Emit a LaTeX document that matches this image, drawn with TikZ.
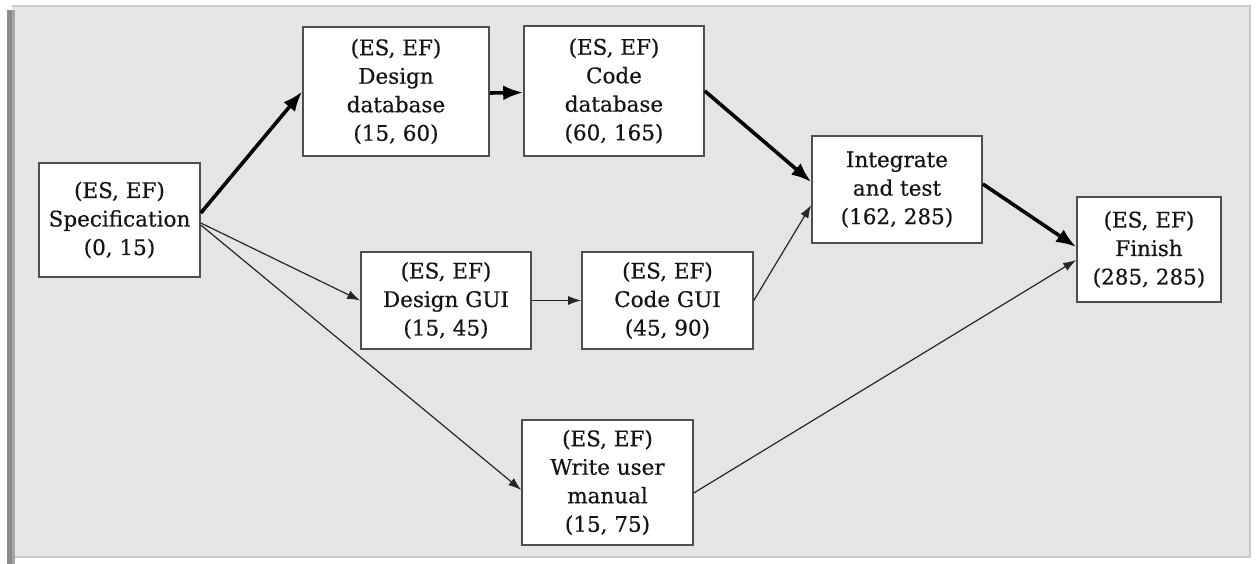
\documentclass[tikz,border=0pt]{standalone}
\usepackage{fontspec}
\setmainfont{DejaVu Serif}
\newfontfamily\boxfont{DejaVu Serif}[FakeBold=0.5]
\usetikzlibrary{arrows.meta}
\definecolor{panel}{HTML}{E4E5E7}
\definecolor{paneledge}{HTML}{C9CACC}
\definecolor{sidebar}{HTML}{8A8A8A}
\definecolor{boxline}{HTML}{4E4E4E}
\definecolor{ink}{HTML}{151515}
\tikzset{
  task/.style={draw=boxline, line width=1.6pt, fill=white, align=center,
    inner sep=0pt, text=ink, font=\boxfont\fontsize{21.5}{28.5}\selectfont},
  crit/.style={line width=3.6pt, black, -{Latex[length=20pt,width=15pt]}},
  flow/.style={line width=1.2pt, black!85, -{Latex[length=13pt,width=9pt]}},
}
\begin{document}
\begin{tikzpicture}[x=1pt,y=-1pt]
\useasboundingbox (0,0) rectangle (1256,564);
% page and grey panel
\fill[white] (0,0) rectangle (1256,564);
\fill[panel] (12,6) rectangle (1250,557);
\draw[paneledge, line width=2.5pt] (12,6) -- (1250,6) -- (1250,557) -- (12,557);
\fill[sidebar] (7,10) rectangle (12,564);
\fill[black!35] (12,10) rectangle (15,564);

% activities
\node[task, minimum width=161pt, minimum height=114pt] (spec) at (119.5,220)
  {(ES, EF)\\Specification\\(0, 15)};
\node[task, minimum width=186pt, minimum height=129pt] (ddb) at (396,91.5)
  {(ES, EF)\\Design\\database\\(15, 60)};
\node[task, minimum width=180pt, minimum height=130pt] (cdb) at (614,91)
  {(ES, EF)\\Code\\database\\(60, 165)};
\node[task, minimum width=170pt, minimum height=97pt] (dgui) at (446,300.5)
  {(ES, EF)\\Design GUI\\(15, 45)};
\node[task, minimum width=171pt, minimum height=97pt] (cgui) at (667.5,300.5)
  {(ES, EF)\\Code GUI\\(45, 90)};
\node[task, minimum width=171pt, minimum height=125pt] (manual) at (607.5,482.5)
  {(ES, EF)\\Write user\\manual\\(15, 75)};
\node[task, minimum width=170pt, minimum height=107pt] (integ) at (897,189.5)
  {Integrate\\and test\\(162, 285)};
\node[task, minimum width=144pt, minimum height=105pt] (finish) at (1149,249.5)
  {(ES, EF)\\Finish\\(285, 285)};

% critical path
\draw[crit] ([yshift=7pt]spec.east) -- (ddb.west);
\draw[crit] ([yshift=-1.5pt]ddb.east) -- ([yshift=-1.5pt]cdb.west);
\draw[crit] (cdb.east) -- ([yshift=7.5pt]integ.west);
\draw[crit] ([yshift=5.5pt]integ.east) -- ([yshift=2.5pt]finish.west);

% other dependencies
\draw[flow] ([yshift=-3pt]spec.east) -- (dgui.west);
\draw[flow] ([yshift=-5pt]spec.east) -- ([yshift=-7.5pt]manual.west);
\draw[flow] (dgui.east) -- (cgui.west);
\draw[flow] (cgui.east) -- ([yshift=-15.5pt]integ.west);
\draw[flow] ([yshift=-10.5pt]manual.east) -- ([yshift=-10.5pt]finish.west);
\end{tikzpicture}
\end{document}
